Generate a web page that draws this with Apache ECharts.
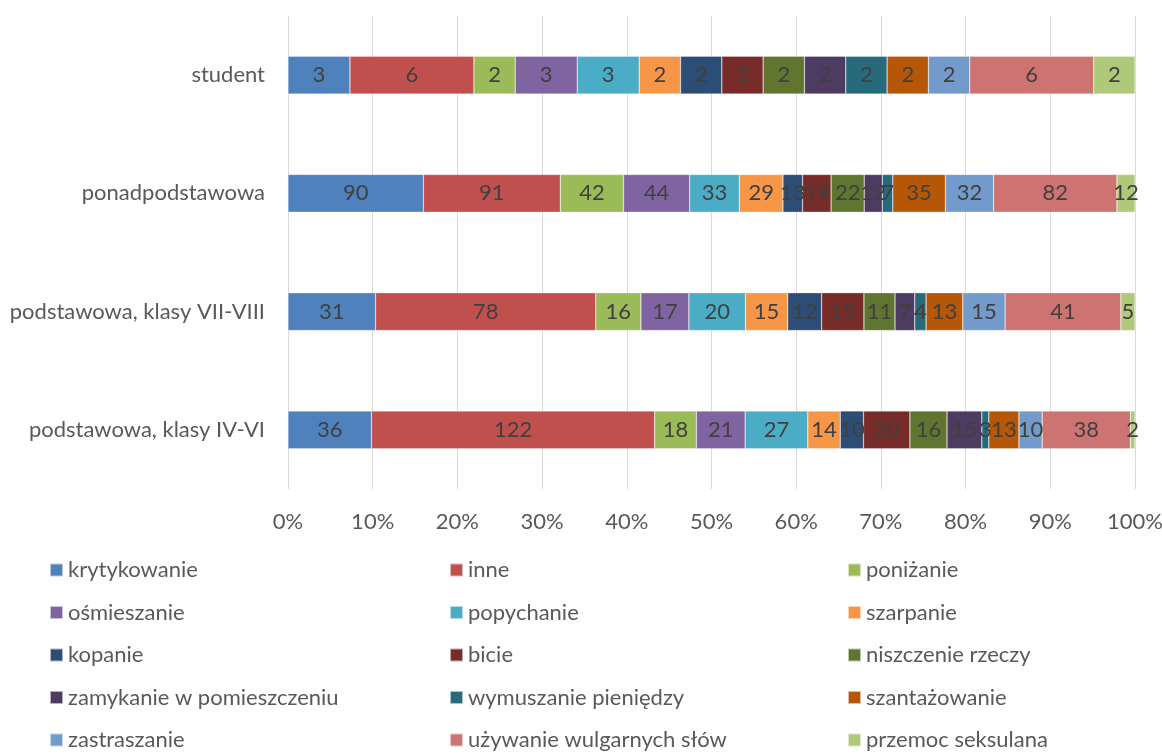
<!DOCTYPE html>
<html>
<head>
<meta charset="utf-8">
<script src="https://cdn.jsdelivr.net/npm/echarts@6/dist/echarts.min.js"></script>
<style>html,body{margin:0;padding:0;background:#fff}#c{width:1162px;height:756px}</style>
</head>
<body>
<div id="c"></div>
<script>
const categories = ['student', 'ponadpodstawowa', 'podstawowa, klasy VII-VIII', 'podstawowa, klasy IV-VI'];
const seriesNames = ['krytykowanie', 'inne', 'poniżanie', 'ośmieszanie', 'popychanie', 'szarpanie', 'kopanie', 'bicie', 'niszczenie rzeczy', 'zamykanie w pomieszczeniu', 'wymuszanie pieniędzy', 'szantażowanie', 'zastraszanie', 'używanie wulgarnych słów', 'przemoc seksulana'];
// values per category (same order as seriesNames)
const student = [3, 6, 2, 3, 3, 2, 2, 2, 2, 2, 2, 2, 2, 6, 2];
const ponadpodstawowa = [90, 91, 42, 44, 33, 29, 13, 19, 22, 12, 7, 35, 32, 82, 12];
const klasyVII_VIII = [31, 78, 16, 17, 20, 15, 12, 15, 11, 7, 4, 13, 15, 41, 5];
const klasyIV_VI = [36, 122, 18, 21, 27, 14, 10, 20, 16, 15, 3, 13, 10, 38, 2];
const xTicks = [0, 10, 20, 30, 40, 50, 60, 70, 80, 90, 100];

const colors = ['#4F81BD', '#C0504D', '#9BBB59', '#8064A2', '#4BACC6', '#F79646', '#2C4D75', '#772C2A', '#5F7530', '#4D3B62', '#276A7C', '#B65708', '#729ACA', '#CD7371', '#AFC97A'];

const rows = [student, ponadpodstawowa, klasyVII_VIII, klasyIV_VI];
const totals = rows.map(r => r.reduce((a, b) => a + b, 0));
const FONT = 'Lato';
const FS = 22;

const series = seriesNames.map((name, i) => ({
  name: name,
  type: 'bar',
  stack: 'total',
  barWidth: '32%',
  itemStyle: { color: colors[i], borderColor: 'rgba(255,255,255,0.6)', borderWidth: 0.5 },
  label: {
    show: true,
    position: 'inside',
    color: '#404040',
    fontFamily: FONT,
    fontSize: FS,
    formatter: p => p.data.raw
  },
  data: rows.map((r, k) => ({ value: r[i] / totals[k] * 100, raw: r[i] }))
}));

const legends = [0, 1, 2].map(c => ({
  orient: 'vertical',
  left: [49, 449, 847][c],
  top: 559,
  height: 196,
  padding: 0,
  itemGap: 20.5,
  itemWidth: 13,
  itemHeight: 13,
  icon: 'rect',
  textStyle: { color: '#595959', fontFamily: FONT, fontSize: FS, lineHeight: 22 },
  data: [c, c + 3, c + 6, c + 9, c + 12].map(i => seriesNames[i])
}));

const chart = echarts.init(document.getElementById('c'), null, { renderer: 'canvas' });
chart.setOption({
  animation: false,
  color: colors,
  grid: { left: 288, right: 27, top: 16, bottom: 267, containLabel: false, outerBoundsMode: 'none' },
  legend: legends,
  xAxis: {
    type: 'value',
    min: xTicks[0],
    max: xTicks[xTicks.length - 1],
    interval: 10,
    axisLine: { show: false },
    axisTick: { show: false },
    axisLabel: { formatter: '{value}%', color: '#595959', fontFamily: FONT, fontSize: FS, margin: 22 },
    splitLine: { lineStyle: { color: '#D9D9D9', width: 1 } }
  },
  yAxis: {
    type: 'category',
    inverse: true,
    data: categories,
    axisLine: { show: false },
    axisTick: { show: false },
    axisLabel: { color: '#595959', fontFamily: FONT, fontSize: FS, margin: 23 }
  },
  series: series
});
</script>
</body>
</html>
